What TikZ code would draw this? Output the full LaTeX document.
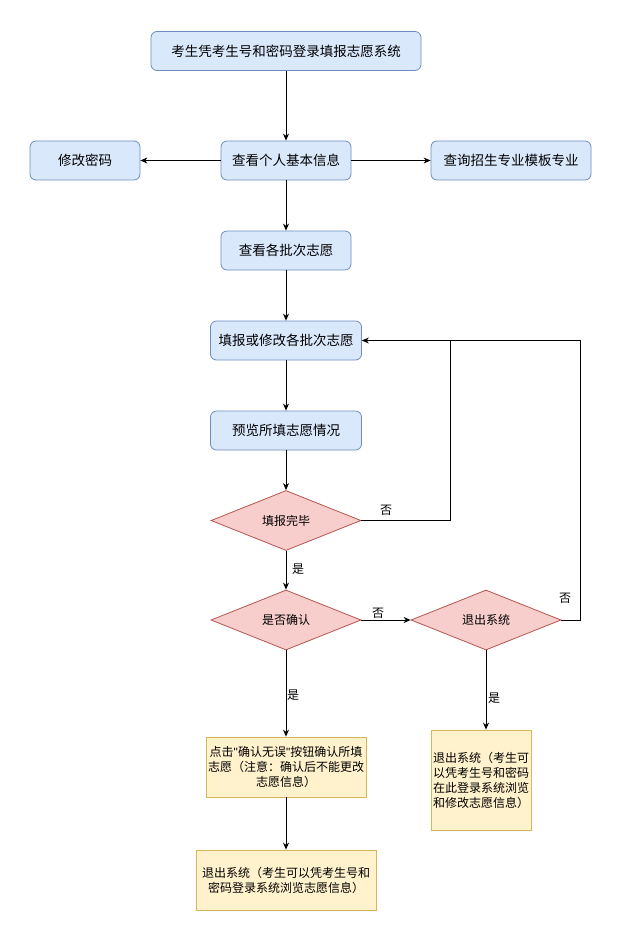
\documentclass[tikz,border=0pt]{standalone}
\usepackage{fontspec}
\setmainfont{Noto Sans CJK SC}
\newfontfamily\quotefont{Liberation Sans}
\usetikzlibrary{arrows.meta, shapes.geometric}
\definecolor{stepfill}{HTML}{DAE8FC}
\definecolor{stepline}{HTML}{6C8EBF}
\definecolor{askfill}{HTML}{F8CECC}
\definecolor{askline}{HTML}{B85450}
\definecolor{notefill}{HTML}{FFF2CC}
\definecolor{noteline}{HTML}{D6B656}
\def\xMid{286}
\def\xRight{486}
\newcommand{\qmark}{{\quotefont"}}
\tikzset{
  fcstep/.style={draw=stepline, fill=stepfill, rounded corners=6pt, line width=0.8pt,
    font=\fontsize{13.5}{16}\selectfont, inner sep=2pt, minimum height=39pt},
  fcask/.style={diamond, draw=askline, fill=askfill, aspect=2.5, inner sep=0pt, line width=0.8pt,
    minimum width=150pt, minimum height=60pt, font=\fontsize{12}{15}\selectfont},
  fcnote/.style={draw=noteline, fill=notefill, align=center, line width=0.8pt,
    font=\fontsize{12}{15}\selectfont, inner sep=2pt},
  fcarr/.style={-{Stealth[length=7pt, width=6pt]}, line width=0.9pt},
  fcline/.style={line width=0.9pt},
  fclbl/.style={font=\fontsize{12}{14}\selectfont, inner sep=1pt},
}
\begin{document}
\begin{tikzpicture}[x=1pt, y=-1pt]
  \useasboundingbox (0,0) rectangle (621,941);

  % steps
  \node[fcstep, minimum width=270pt] (login) at (\xMid,51) {考生凭考生号和密码登录填报志愿系统};
  \node[fcstep, minimum width=110pt] (pwd) at (85,160.5) {修改密码};
  \node[fcstep, minimum width=130pt] (info) at (\xMid,160.5) {查看个人基本信息};
  \node[fcstep, minimum width=160pt] (tmpl) at (511,160.5) {查询招生专业模板专业};
  \node[fcstep, minimum width=130pt] (batch) at (\xMid,250.5) {查看各批次志愿};
  \node[fcstep, minimum width=151pt] (fill) at (\xMid,340.5) {填报或修改各批次志愿};
  \node[fcstep, minimum width=151pt] (prev) at (\xMid,430.5) {预览所填志愿情况};

  % decisions
  \node[fcask] (done) at (\xMid,520.5) {填报完毕};
  \node[fcask] (confirm) at (\xMid,620) {是否确认};
  \node[fcask] (quit) at (\xRight,620) {退出系统};

  % notes
  \node[fcnote, minimum width=160pt, minimum height=60pt] (ok) at (\xMid,767)
    {点击\qmark 确认无误\qmark 按钮确认所填\\志愿（注意：确认后不能更改\\志愿信息）};
  \node[fcnote, minimum width=100pt, minimum height=100pt] (quitR) at (481,780)
    {退出系统（考生可\\以凭考生号和密码\\在此登录系统浏览\\和修改志愿信息）};
  \node[fcnote, minimum width=180pt, minimum height=60pt] (quitB) at (\xMid,880)
    {退出系统（考生可以凭考生号和\\密码登录系统浏览志愿信息）};

  \coordinate (backA) at (450,340.5);
  \coordinate (backB) at (580,340.5);

  % connectors
  \draw[fcarr] (login) -- (info);
  \draw[fcarr] (info) -- (pwd);
  \draw[fcarr] (info) -- (tmpl);
  \draw[fcarr] (info) -- (batch);
  \draw[fcarr] (batch) -- (fill);
  \draw[fcarr] (fill) -- (prev);
  \draw[fcarr] (prev) -- (done);
  \draw[fcarr] (done) -- (confirm);
  \draw[fcline] (done.east) -| (backA);
  \draw[fcarr] (quit.east) -| (backB) -- (fill.east);
  \draw[fcarr] (confirm) -- (quit);
  \draw[fcarr] (confirm) -- (ok);
  \draw[fcarr] (quit.south) -- (quit.south |- quitR.north);
  \draw[fcarr] (ok) -- (quitB);

  % labels
  \node[fclbl] (lblA) at (386,510) {否};
  \node[fclbl] (lblB) at (298,569) {是};
  \node[fclbl] (lblC) at (378,613) {否};
  \node[fclbl] (lblD) at (565,598) {否};
  \node[fclbl] (lblE) at (293,695) {是};
  \node[fclbl] (lblF) at (494,698) {是};
\end{tikzpicture}
\end{document}
